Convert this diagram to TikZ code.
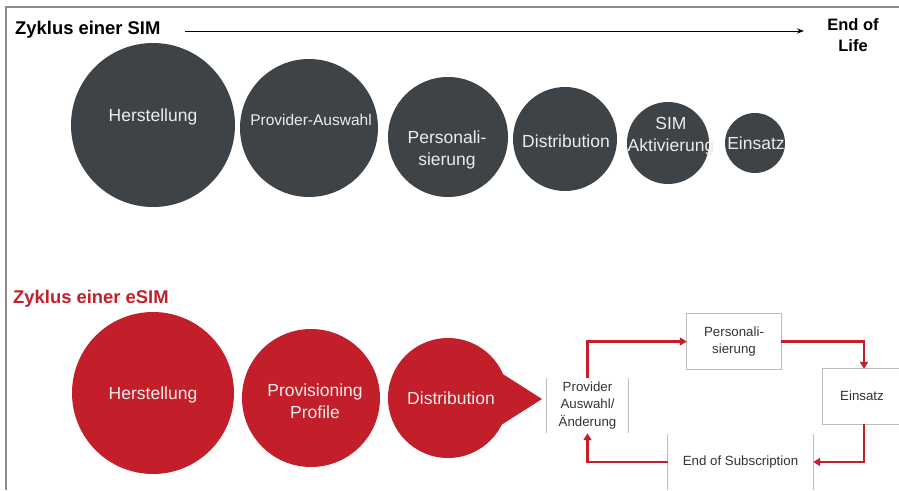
\documentclass[tikz,border=0pt]{standalone}
\usepackage{fontspec}
\setmainfont{Liberation Sans}
\usetikzlibrary{arrows.meta}
\definecolor{simgray}{HTML}{3E4347}
\definecolor{esimred}{HTML}{C21F2A}
\definecolor{framegray}{HTML}{8C8C8C}
\definecolor{boxline}{HTML}{BEBEBE}
\definecolor{labelwhite}{HTML}{ECECEC}
\definecolor{boxtext}{HTML}{333333}
\begin{document}
\begin{tikzpicture}[x=1pt,y=-1pt,
  ball/.style={circle, inner sep=0pt, minimum size=#1},
  simball/.style={ball=#1, fill=simgray},
  esimball/.style={ball=#1, fill=esimred},
  balltext/.style={text=labelwhite, align=center, inner sep=0pt,
    font=\fontsize{17.5}{21.5}\selectfont},
  heading/.style={anchor=west, inner sep=0pt,
    font=\fontsize{18.4}{21}\selectfont\bfseries},
  stagebox/.style={rectangle, inner sep=0pt, text=boxtext, align=center,
    font=\fontsize{13.3}{17.5}\selectfont},
  boxedge/.style={draw=boxline, line width=0.9pt},
  flow/.style={draw=esimred, line width=2.2pt,
    -{Triangle[width=8pt,length=7pt]}},
]
\useasboundingbox (0,0) rectangle (899,490);
\clip (0,0) rectangle (899,490);

% frame
\draw[framegray, line width=1.6pt] (6,490) -- (6,7) -- (899,7);

% ---------- SIM cycle ----------
\node[heading] (simtitle) at (15,30) {Zyklus einer SIM};
\node[align=center, inner sep=0pt, font=\fontsize{16.5}{20.5}\selectfont\bfseries]
  (eol) at (853,35) {End of\\Life};
\coordinate (tlstart) at (185,31);
\coordinate (tlend) at (804,31);
\draw[line width=1pt, -{Stealth[length=7pt,width=5pt]}] (tlstart) -- (tlend);

\node[simball=164pt] (h1) at (153,125) {};
\node[simball=138pt] (p1) at (309,128) {};
\node[simball=120pt] (s1) at (448,137) {};
\node[simball=104pt] (d1) at (565,139) {};
\node[simball=82pt]  (a1) at (668,143) {};
\node[simball=60pt]  (e1) at (755,143) {};

\node[balltext] (h1t) at (153,117) {Herstellung};
\node[balltext, font=\fontsize{15.5}{19}\selectfont] (p1t) at (311,120) {Provider-Auswahl};
\node[balltext] (s1t) at (447,150) {Personali-\\sierung};
\node[balltext] (d1t) at (566,141) {Distribution};
\node[balltext] (a1t) at (671,136) {SIM\\Aktivierung};
\node[balltext] (e1t) at (756,143) {Einsatz};

% ---------- eSIM cycle ----------
\node[heading, text=esimred] (esimtitle) at (13,299) {Zyklus einer eSIM};

\node[esimball=162pt] (h2) at (153,393) {};
\node[esimball=138pt] (p2) at (311,398) {};
\node[esimball=120pt] (d2) at (448,398) {};
\fill[esimred] (498,371) -- (542,399) -- (498,427) -- cycle;

\node[balltext] (h2t) at (153,395) {Herstellung};
\node[balltext] (p2t) at (315,401) {Provisioning\\Profile};
\node[balltext] (d2t) at (451,398) {Distribution};

% stage boxes of the eSIM loop
\node[stagebox, minimum width=81pt, minimum height=55pt] (prov) at (587.5,405.5)
  {Provider\\Auswahl/\\Änderung};
\node[stagebox, minimum width=94pt, minimum height=55pt] (pers) at (734,341.5)
  {Personali-\\sierung};
\node[stagebox, minimum width=82pt, minimum height=55pt] (einsatz) at (864,396.5) {};
\node[stagebox] (einsatzt) at (862,396) {Einsatz};
\node[stagebox, minimum width=145pt, minimum height=56pt] (eos) at (740.5,462)
  {End of Subscription};

\draw[boxedge] (prov.north west) -- (prov.south west);
\draw[boxedge] (prov.north east) -- (prov.south east);
\draw[boxedge] (pers.north west) rectangle (pers.south east);
\draw[boxedge] (einsatz.north west) rectangle (einsatz.south east);
\draw[boxedge] (eos.north west) -- (eos.south west);
\draw[boxedge] (eos.north east) -- (eos.south east);

\draw[flow] (prov.north) |- (pers.west);
\draw[flow] (pers.east) -| (einsatz.north);
\draw[flow] (einsatz.south) |- (eos.east);
\draw[flow] (eos.west) -| (prov.south);
\end{tikzpicture}
\end{document}
